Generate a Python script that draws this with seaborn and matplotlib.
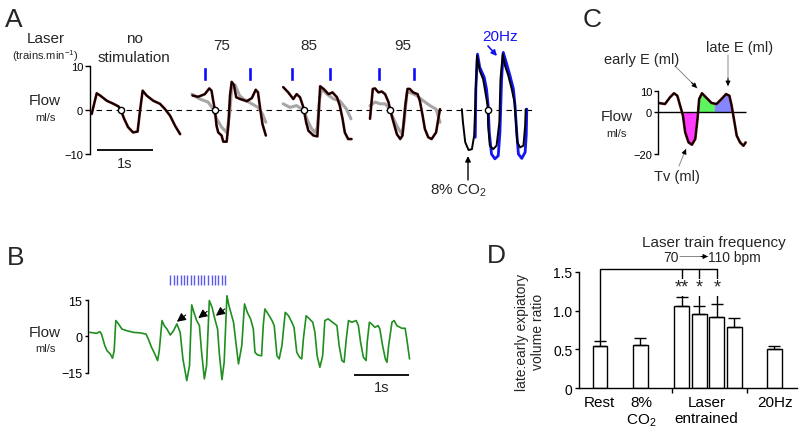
import numpy as np
import matplotlib
matplotlib.use("Agg")
import matplotlib.pyplot as plt
import seaborn as sns

W, H = 800, 439

# ---------------- panel A : airflow traces (time s, flow ml/s) ----------------
nostim_t = [0.03, 0.12, 0.18, 0.30, 0.42, 0.51, 0.55, 0.61, 0.68, 0.77, 0.85, 0.89,
            0.94, 1.01, 1.13, 1.25, 1.34, 1.43, 1.52, 1.61]
nostim_flow = [-0.9, 3.8, 3.3, 2.1, 1.4, 0.8, 0.0, -2.0, -3.9, -5.1, -4.9, -0.5,
               4.4, 3.3, 2.1, 1.4, 0.2, -1.3, -3.6, -5.5]

l75_t = [1.83, 1.93, 2.05, 2.13, 2.17, 2.20, 2.23, 2.26, 2.29, 2.35, 2.38, 2.44, 2.47,
         2.50, 2.53, 2.57, 2.61, 2.68, 2.80, 2.89, 2.96, 3.00, 3.04, 3.08, 3.14]
l75_flow = [3.3, 3.0, 3.6, 4.9, 4.4, 2.1, 0.0, -3.6, -5.1, -5.8, -7.2, -7.2, -3.6,
            3.3, 6.4, 5.7, 2.9, 2.5, 2.0, 2.7, 4.6, 4.0, 0.2, -3.2, -5.8]
l75_ctrl_t = [1.82, 1.96, 2.11, 2.20, 2.26, 2.35, 2.44, 2.49, 2.53, 2.59, 2.67, 2.74,
              2.89, 3.00, 3.08, 3.14]
l75_ctrl_flow = [3.6, 2.5, 1.8, 0.2, -2.0, -3.9, -5.1, -1.3, 4.8, 5.7, 3.3, 2.5,
                 1.4, 0.6, -0.9, -2.8]

l85_t = [3.45, 3.54, 3.63, 3.69, 3.75, 3.80, 3.82, 3.86, 3.90, 3.99, 4.06, 4.08, 4.11,
         4.17, 4.26, 4.33, 4.41, 4.46, 4.51, 4.55, 4.61, 4.67]
l85_flow = [5.2, 4.0, 2.5, 3.6, 2.9, 1.0, 0.0, -2.8, -4.7, -5.8, -6.0, -1.3, 5.4,
            4.8, 3.6, 4.0, 2.9, 1.0, -2.0, -5.1, -6.6, -6.6]
l85_ctrl_t = [3.45, 3.57, 3.69, 3.78, 3.84, 3.90, 3.96, 4.02, 4.06, 4.10, 4.14, 4.23,
              4.35, 4.46, 4.58, 4.66]
l85_ctrl_flow = [1.4, 0.6, 1.0, 0.2, -0.9, -2.8, -4.3, -5.1, -3.9, 2.5, 4.8, 3.6,
                 2.5, 2.1, 0.2, -2.0]

l95_t = [5.00, 5.05, 5.09, 5.15, 5.21, 5.27, 5.33, 5.36, 5.42, 5.48, 5.54, 5.58, 5.63,
         5.67, 5.71, 5.77, 5.85, 5.89, 5.94, 5.98, 6.04, 6.10, 6.18, 6.22, 6.25]
l95_flow = [-2.0, 4.8, 4.9, 4.0, 4.2, 3.6, 1.8, 0.0, -2.8, -5.5, -6.6, -5.8, 1.0,
            4.8, 4.8, 4.0, 3.6, 2.1, -1.3, -4.3, -6.2, -6.6, -5.1, -2.0, 0.2]
l95_ctrl_t = [5.00, 5.09, 5.18, 5.27, 5.35, 5.42, 5.51, 5.57, 5.61, 5.66, 5.71, 5.83,
              5.95, 6.07, 6.18, 6.25]
l95_ctrl_flow = [1.0, 1.8, 1.4, 1.4, 0.2, -2.0, -4.3, -5.5, -2.8, 4.0, 4.0, 3.3,
                 2.1, 1.0, 0.2, -2.8]

co2_t = [6.64, 6.66, 6.70, 6.76, 6.82, 6.86, 6.88, 6.91, 6.96, 7.02, 7.07, 7.10, 7.11,
         7.14, 7.20, 7.26, 7.31, 7.33, 7.37, 7.41, 7.47, 7.53, 7.58, 7.61, 7.63, 7.68,
         7.74, 7.77, 7.78]
co2_flow = [0.2, -2.8, -7.3, -9.1, -8.9, -5.8, 1.0, 12.3, 8.9, 7.0, 3.3, 1.0, -3.6,
            -8.1, -8.9, -8.1, -2.8, 7.0, 12.7, 10.1, 7.8, 4.8, 1.8, -3.6, -7.3, -8.5,
            -8.1, -3.6, 0.2]
hz20_t = [6.88, 6.89, 6.92, 6.96, 7.04, 7.08, 7.11, 7.13, 7.17, 7.23, 7.29, 7.32, 7.35,
          7.38, 7.44, 7.50, 7.56, 7.59, 7.62, 7.65, 7.71, 7.77, 7.79, 7.80]
hz20_flow = [-6.2, 4.8, 12.7, 9.7, 7.4, 4.8, 1.0, -5.1, -10.0, -11.1, -10.4, -5.1,
             7.0, 13.1, 10.5, 7.8, 4.8, 1.0, -5.1, -10.0, -11.0, -9.6, -5.8, 0.2]

zero_cross_t = [0.55, 2.23, 3.82, 5.36, 7.11]
laser_train_t = [2.054, 2.852, 3.607, 4.282, 5.164, 5.789]
train_labels = ["75", "85", "95"]

# ---------------- panel B : entrainment trace ----------------
b_t = [0.03, 0.15, 0.21, 0.24, 0.30, 0.34, 0.40, 0.44, 0.47, 0.50, 0.55, 0.61, 0.70,
       0.82, 0.94, 1.05, 1.09, 1.15, 1.21, 1.26, 1.29, 1.34, 1.38, 1.43, 1.49, 1.55,
       1.61, 1.67, 1.72, 1.79, 1.84, 1.88, 1.92, 1.97, 2.02, 2.06, 2.11, 2.15, 2.20,
       2.25, 2.30, 2.35, 2.38, 2.43, 2.47, 2.52, 2.56, 2.64, 2.69, 2.73, 2.79, 2.84,
       2.89, 2.95, 3.00, 3.03, 3.08, 3.15, 3.18, 3.21, 3.27, 3.34, 3.38, 3.43, 3.47,
       3.52, 3.58, 3.64, 3.70, 3.74, 3.79, 3.84, 3.88, 3.91, 3.96, 4.02, 4.08, 4.12,
       4.16, 4.21, 4.26, 4.30, 4.36, 4.44, 4.52, 4.56, 4.61, 4.65, 4.69, 4.73, 4.79,
       4.87, 4.91, 4.95, 5.00, 5.05, 5.07, 5.11, 5.15, 5.21, 5.27, 5.30, 5.35, 5.40,
       5.43, 5.46, 5.52, 5.56, 5.61, 5.70, 5.76, 5.79, 5.84]
b_flow = [1.7, 1.3, 2.0, 1.0, -3.8, -5.9, -7.3, -9.0, -5.9, 6.6, 5.2, 3.1, 2.4,
          1.7, 1.5, 1.0, -1.0, -4.5, -7.3, -10.0, -5.9, 6.6, 4.5, 3.1, 0.6, 2.4,
          5.2, 1.7, -9.3, -18.3, -12.1, 13.1, 10.0, 6.6, 4.5, -6.6, -17.6, -12.1, 14.9,
          12.1, 7.3, 3.1, -6.6, -17.9, -10.7, 16.9, 12.5, 5.9, -3.8, -11.4, -3.8, 13.5,
          10.0, 7.3, 3.1, -6.6, -7.7, -8.0, 4.5, 11.4, 9.3, 6.6, 4.5, -8.0, -9.3,
          -3.8, 10.0, 8.6, 5.9, 3.8, -6.6, -8.6, -9.3, -1.0, 8.6, 7.3, 5.9, 1.7,
          -8.0, -12.8, -8.0, 6.6, 7.3, 5.9, 4.5, -3.8, -10.0, -10.7, -1.0, 6.6, 5.9,
          6.6, 4.5, -2.4, -8.6, -10.0, -2.4, 5.9, 5.2, 3.8, 4.5, 3.1, -3.8, -9.3,
          -10.7, -3.8, 5.9, 6.6, 4.5, 3.4, 3.4, -1.0, -9.3]
b_pulse_t = [1.49, 1.55, 1.61, 1.68, 1.74, 1.80, 1.86, 1.93, 1.99, 2.05, 2.11, 2.18,
             2.24, 2.30, 2.36, 2.43, 2.49]
b_marks_t = [1.61, 2.00, 2.32]
b_marks_flow = [6.1, 7.6, 8.6]

# ---------------- panel C : annotated breath ----------------
c_t = [0.0, 0.12, 0.21, 0.28, 0.34, 0.39, 0.44, 0.48, 0.54, 0.60, 0.66, 0.70, 0.73,
       0.78, 0.85, 0.95, 1.00, 1.04, 1.13, 1.21, 1.27, 1.31, 1.35, 1.40, 1.46, 1.52, 1.56]
c_flow = [4.2, 3.7, 6.9, 8.8, 7.6, 2.9, -1.8, -9.7, -14.5, -15.6, -12.9, -3.4, 6.1,
          8.8, 6.9, 4.2, 3.9, 3.7, 6.1, 8.4, 7.6, 2.9, -3.4, -11.3, -14.5, -16.1, -14.5]
c_split_t = 1.0

# ---------------- panel D : volume ratio ----------------
groups = ["Rest", "8% CO2", "L70", "L80", "L95", "L110", "20Hz"]
ratio_mean = [0.54, 0.56, 1.06, 0.96, 0.92, 0.79, 0.50]
ratio_sem = [0.07, 0.09, 0.11, 0.10, 0.16, 0.11, 0.05]
signif = {2: "**", 3: "*", 4: "*"}
xlabels = ["Rest", "8%\nCO$_\\mathregular{2}$", "Laser\nentrained", "20Hz"]

bar_pos = [1.4, 4.15, 6.95, 8.15, 9.35, 10.55, 13.25]
label_pos = [1.35, 4.2, 8.65, 13.3]

sns.set_theme(style="white")
plt.rcParams["font.family"] = ["Liberation Sans", "DejaVu Sans"]
plt.rcParams["mathtext.fontset"] = "custom"
plt.rcParams["mathtext.rm"] = "Liberation Sans"
plt.rcParams["mathtext.it"] = "Liberation Sans:italic"
plt.rcParams["axes.linewidth"] = 1.0

fig = plt.figure(figsize=(W / 100, H / 100), dpi=100)


def add_axes_px(left, top, right, bottom):
    return fig.add_axes([left / W, 1 - bottom / H, (right - left) / W, (bottom - top) / H])


def ftext(x, y, s, **kw):
    kw.setdefault("ha", "center")
    kw.setdefault("va", "baseline")
    fig.text(x / W, 1 - y / H, s, **kw)


def px(x, y):
    return (x, H - y)


def arrow(tail, head, color="black", lw=1.0, shaft=None, scale=8):
    if shaft is not None:
        fig.axes[0].annotate("", xy=px(*head), xytext=px(*tail), xycoords="figure pixels",
                             textcoords="figure pixels",
                             arrowprops=dict(arrowstyle="-", color=shaft, lw=lw,
                                             shrinkA=0, shrinkB=0))
        tail = (head[0] - (head[0] - tail[0]) * 0.25, head[1] - (head[1] - tail[1]) * 0.25)
    fig.axes[0].annotate("", xy=px(*head), xytext=px(*tail), xycoords="figure pixels",
                         textcoords="figure pixels",
                         arrowprops=dict(arrowstyle="-|>", color=color, lw=lw,
                                         shrinkA=0, shrinkB=0, mutation_scale=scale))


def dark_trace(ax, t, f):
    sns.lineplot(x=t, y=f, ax=ax, color="#6e1212", lw=1.9, sort=False)
    sns.lineplot(x=t, y=f, ax=ax, color="black", lw=1.1, sort=False)


def style_yaxis(ax, ticks, bounds, size, length, pad):
    sns.despine(ax=ax, bottom=True)
    ax.spines["left"].set_bounds(*bounds)
    ax.spines["left"].set_color("black")
    ax.set_yticks(ticks)
    ax.set_xticks([])
    ax.tick_params(axis="y", left=True, length=length, width=1, labelsize=size,
                   pad=pad, color="black", labelcolor="black")
    ax.set_xlabel("")
    ax.set_ylabel("")


# ---------------- A ----------------
axA = add_axes_px(90, 49.4, 566, 172.6)
axA.patch.set_alpha(0)
axA.hlines(0, 0.1, 7.95, colors="black", linestyles=(0, (5, 4)), lw=0.8, zorder=1)
for t, f in [(l75_ctrl_t, l75_ctrl_flow), (l85_ctrl_t, l85_ctrl_flow), (l95_ctrl_t, l95_ctrl_flow)]:
    sns.lineplot(x=t, y=f, ax=axA, color="#a6a6a6", lw=2.2, sort=False)
for t, f in [(nostim_t, nostim_flow), (l75_t, l75_flow), (l85_t, l85_flow), (l95_t, l95_flow)]:
    dark_trace(axA, t, f)
sns.lineplot(x=hz20_t, y=hz20_flow, ax=axA, color="#1414f0", lw=2.0, sort=False)
sns.lineplot(x=co2_t, y=co2_flow, ax=axA, color="black", lw=1.4, sort=False)
axA.plot(zero_cross_t, np.zeros(len(zero_cross_t)), "o", mfc="white", mec="black",
         ms=4.5, mew=1.0, zorder=6)
axA.bar(laser_train_t, 3.1, bottom=6.7, width=0.07, color="#0a0aff", zorder=4)
axA.hlines(-9.1, 0.125, 1.125, colors="black", lw=1.3)
axA.set_xlim(0, 8.5)
axA.set_ylim(-14, 14)
style_yaxis(axA, [-10, 0, 10], (-10, 10), 8, 3.5, 1.5)

ftext(5, 27, "A", ha="left", fontsize=19)
ftext(46, 43.3, "Laser", fontsize=11)
ftext(45, 59.5, "(trains.min$^{\\mathregular{-1}}$)", fontsize=8)
ftext(134, 43, "no", fontsize=11)
ftext(134, 61.7, "stimulation", fontsize=11)
for lab, x in zip(train_labels, [222, 308.5, 402.5]):
    ftext(x, 50, lab, fontsize=11)
ftext(500, 41, "20Hz", fontsize=11, color="#1414f0")
ftext(45, 105, "Flow", fontsize=11)
ftext(45, 121, "ml/s", fontsize=8)
ftext(125, 167.5, "1s", fontsize=10.5)
ftext(458, 195, "8% CO$_\\mathregular{2}$", fontsize=11)

# ---------------- B ----------------
axB = add_axes_px(88.3, 272.4, 420, 390.5)
axB.patch.set_alpha(0)
sns.lineplot(x=b_t, y=b_flow, ax=axB, color="#1f8f1f", lw=1.2, sort=False)
axB.vlines(b_pulse_t, 21.4, 25.5, colors="#5a5af0", lw=1.0)
for t, f in zip(b_marks_t, b_marks_flow):
    axB.annotate("", xy=(t, f), xytext=(t + 0.16, f + 2.8),
                 arrowprops=dict(arrowstyle="-|>", color="black", lw=0.8,
                                 shrinkA=0, shrinkB=0, mutation_scale=13))
axB.hlines(-16, 4.83, 5.83, colors="black", lw=1.3)
axB.set_xlim(0, 6.03)
axB.set_ylim(-22, 27)
style_yaxis(axB, [-15, 0, 15], (-15, 15), 9, 2.5, 1.8)

ftext(7, 265, "B", ha="left", fontsize=19)
ftext(45, 337, "Flow", fontsize=11)
ftext(45, 352, "ml/s", fontsize=8)
ftext(382, 392, "1s", fontsize=10.5)

# ---------------- C ----------------
axC = add_axes_px(658.3, 87.5, 750, 159.2)
axC.patch.set_alpha(0)
ct = np.array(c_t)
cf = np.array(c_flow)
axC.fill_between(ct, cf, 0, where=(cf <= 0) & (ct < c_split_t), interpolate=True,
                 color="#ff3cff", lw=0)
axC.fill_between(ct, cf, 0, where=(cf >= 0) & (ct > 0.6) & (ct <= c_split_t),
                 interpolate=True, color="#5df55d", lw=0)
axC.fill_between(ct, cf, 0, where=(cf >= 0) & (ct >= c_split_t), interpolate=True,
                 color="#8585ff", lw=0)
axC.hlines(0, 0, ct.max(), colors="black", lw=1.0)
dark_trace(axC, c_t, c_flow)
axC.set_xlim(0, 1.6375)
axC.set_ylim(-22, 12)
style_yaxis(axC, [-20, 0, 10], (-20, 10), 8, 3, 1.5)

ftext(583, 27, "C", ha="left", fontsize=19)
ftext(642, 64, "early E (ml)", fontsize=10.5)
ftext(740, 52, "late E (ml)", fontsize=10.5)
ftext(677, 181, "Tv (ml)", fontsize=10.5)
ftext(617, 121, "Flow", fontsize=11)
ftext(616, 137, "ml/s", fontsize=8)

# ---------------- D ----------------
axD = add_axes_px(579.3, 272.7, 797, 389.3)
axD.patch.set_alpha(0)
axD.bar(bar_pos, ratio_mean, width=1.0, color="white", edgecolor="black", lw=1.0,
        yerr=[np.zeros(len(ratio_sem)), ratio_sem],
        error_kw=dict(ecolor="black", elinewidth=1.0, capsize=4, capthick=1.0))
bracket_y = 1.54
tops = np.array(ratio_mean) + np.array(ratio_sem)
axD.plot([bar_pos[0], bar_pos[0], bar_pos[4]], [tops[0], bracket_y, bracket_y],
         color="black", lw=1.0, clip_on=False)
for i, s in signif.items():
    axD.plot([bar_pos[i], bar_pos[i]], [tops[i], bracket_y], color="black", lw=1.0,
             clip_on=False)
    axD.text(bar_pos[i], 1.24, s, ha="center", va="baseline", fontsize=13,
             bbox=dict(fc="white", ec="none", pad=0.3), zorder=5)
axD.set_xlim(0, 14.8)
axD.set_ylim(0, 1.5)
sns.despine(ax=axD)
for side in ["left", "bottom"]:
    axD.spines[side].set_color("black")
axD.set_yticks([0, 0.5, 1.0, 1.5])
axD.set_yticklabels(["0", "0.5", "1.0", "1.5"])
axD.tick_params(axis="y", left=True, length=3, width=1, labelsize=10, pad=2,
                color="black", labelcolor="black")
axD.set_xticks(label_pos)
axD.set_xticklabels(xlabels)
axD.set_xticks([6.29, 11.39], minor=True)
axD.tick_params(axis="x", which="major", bottom=True, length=0, labelsize=11, pad=5,
                labelcolor="black")
axD.tick_params(axis="x", which="minor", bottom=True, length=3.5, width=1,
                color="black")

ftext(487, 263, "D", ha="left", fontsize=19)
ftext(530, 332, "late:early expiatory\nvolume ratio", rotation=90, va="center",
      fontsize=10, multialignment="center")
ftext(714, 247, "Laser train frequency", fontsize=11)
ftext(670.5, 262, "70", fontsize=10)
ftext(708, 262, "110 bpm", ha="left", fontsize=10)

# arrows
arrow((488, 47), (497, 57), color="#1414f0", lw=1.2)
arrow((468, 181), (468, 157), lw=1.0)
arrow((675, 67), (697, 89), shaft="#888888", lw=0.7, scale=7)
arrow((728, 56), (728, 87), shaft="#888888", lw=0.7, scale=7)
arrow((679, 167), (686, 150), shaft="#888888", lw=0.7, scale=7)
arrow((680, 257.5), (708, 257.5), shaft="#888888", lw=0.7, scale=7)

fig.savefig("out.png", dpi=100)
